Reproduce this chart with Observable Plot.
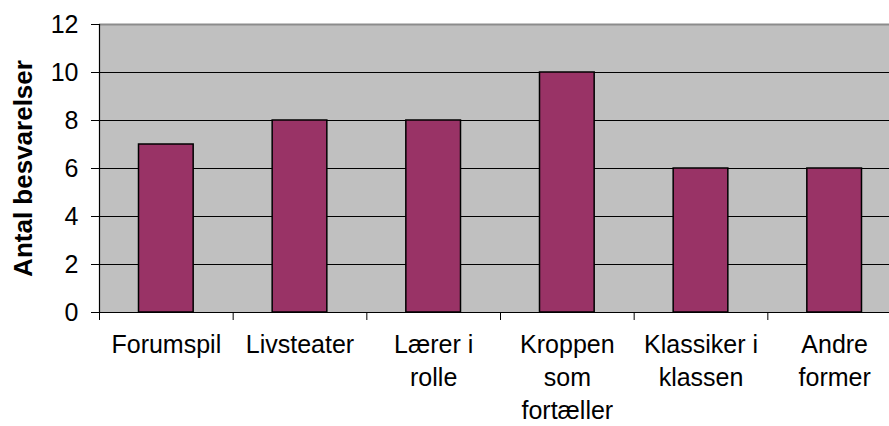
<!DOCTYPE html>
<html>
<head>
<meta charset="utf-8">
<script src="https://cdn.jsdelivr.net/npm/d3@7"></script>
<script src="https://cdn.jsdelivr.net/npm/@observablehq/plot@0.6"></script>
<style>
  html, body { margin: 0; padding: 0; background: #fff; overflow: hidden; }
</style>
</head>
<body>
<div id="chart"></div>
<script>
const categories = ["Forumspil", "Livsteater", "Lærer i rolle", "Kroppen som fortæller", "Klassiker i klassen", "Andre former"];
const tickLabels = ["Forumspil", "Livsteater", "Lærer i\nrolle", "Kroppen\nsom\nfortæller", "Klassiker i\nklassen", "Andre\nformer"];
const values = [7, 8, 8, 10, 6, 6];
const yTicks = [0, 2, 4, 6, 8, 10, 12];
const gridValues = [2, 4, 6, 8, 10];
const yTitle = "Antal besvarelser";

const data = categories.map((c, i) => ({category: c, label: tickLabels[i], value: values[i], index: i}));
const boundaries = d3.range(categories.length + 1);

const chart = Plot.plot({
  width: 889,
  height: 426,
  marginLeft: 99,
  marginRight: -12,
  marginTop: 24,
  marginBottom: 114,
  style: {fontFamily: "'Liberation Sans', Arial, sans-serif", fontSize: "25px", color: "#000", background: "#fff", overflow: "hidden"},
  x: {type: "linear", domain: [0, categories.length]},
  y: {domain: [0, 12]},
  marks: [
    Plot.frame({fill: "#C0C0C0", stroke: null}),
    Plot.ruleY([12], {stroke: "#8c8c8c", strokeWidth: 2}),
    Plot.ruleY(gridValues, {stroke: "#000", strokeWidth: 1}),
    Plot.rectY(data, {
      x1: d => d.index, x2: d => d.index + 1, y1: 0, y2: "value",
      insetLeft: 39.5, insetRight: 39.5,
      fill: "#993366", stroke: "#000", strokeWidth: 1.5
    }),
    Plot.axisY({ticks: yTicks, tickSize: 8, tickPadding: 13, label: null, fontSize: 25, stroke: "#000"}),
    Plot.axisX({ticks: boundaries, tickSize: 8, tickFormat: () => "", label: null, stroke: "#000"}),
    Plot.ruleX([0], {stroke: "#000", strokeWidth: 1.2}),
    Plot.ruleY([0], {stroke: "#000", strokeWidth: 1.2}),
    Plot.text(data, {
      x: d => d.index + 0.5, y: 0, text: "label",
      lineAnchor: "top", lineHeight: 1.32, dy: 17,
      fontSize: 25, fill: "#000", textAnchor: "middle"
    }),
    Plot.text([yTitle], {
      frameAnchor: "left", dx: -76, rotate: -90,
      textAnchor: "middle", lineAnchor: "middle",
      fontSize: 26, fontWeight: "bold", fill: "#000"
    })
  ]
});
document.getElementById("chart").appendChild(chart);
</script>
</body>
</html>
